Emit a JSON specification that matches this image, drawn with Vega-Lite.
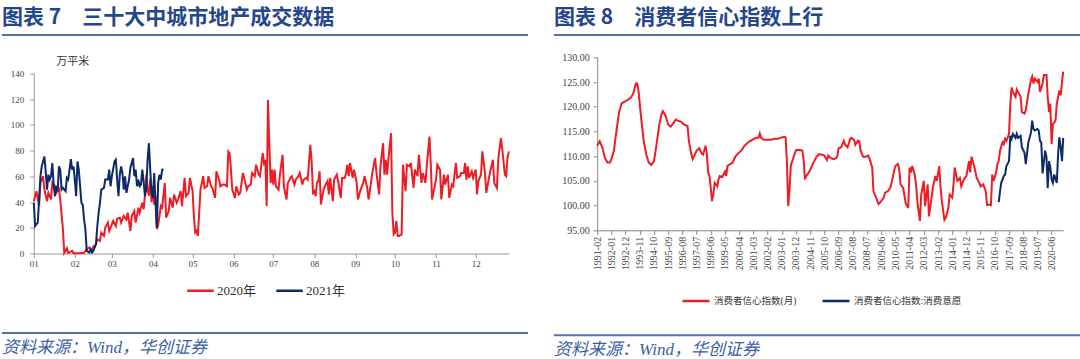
{
  "$schema": "https://vega.github.io/schema/vega-lite/v6.json",
  "background": "white",
  "padding": {"left": 2, "top": 7, "right": 0, "bottom": 0},
  "config": {
    "view": {"stroke": null},
    "axis": {"labelFont": "Liberation Serif", "grid": false, "labelColor": "#444", "domainColor": "#999", "tickColor": "#999", "tickSize": 4, "labelFlush": false, "labelOverlap": false, "labelBound": false}
  },
  "resolve": {"scale": {"color": "independent"}, "legend": {"color": "independent"}},
  "datasets": {
    "y2020": [
      {"date":"01-01","area":40.7},{"date":"01-03","area":48.5},{"date":"01-05","area":36.9},{"date":"01-06","area":54.9},{"date":"01-08","area":60.1},{"date":"01-09","area":49.7},{"date":"01-11","area":40.7},{"date":"01-12","area":47.2},{"date":"01-14","area":42.0},{"date":"01-15","area":54.9},{"date":"01-17","area":52.3},{"date":"01-18","area":47.2},{"date":"01-20","area":50.0},{"date":"01-21","area":42.0},{"date":"01-23","area":19.0},{"date":"01-24","area":0.5},{"date":"01-26","area":4.0},{"date":"01-27","area":0.3},{"date":"01-30","area":2.0},{"date":"01-31","area":0.2},
      {"date":"02-05","area":0.2},{"date":"02-08","area":0.5},{"date":"02-10","area":3.4},{"date":"02-12","area":4.6},{"date":"02-14","area":2.0},{"date":"02-15","area":5.4},{"date":"02-17","area":7.2},{"date":"02-18","area":11.0},{"date":"02-20","area":9.8},{"date":"02-21","area":16.2},{"date":"02-23","area":13.7},{"date":"02-24","area":20.1},{"date":"02-26","area":24.0},{"date":"02-27","area":17.5},
      {"date":"03-01","area":22.7},{"date":"03-02","area":25.3},{"date":"03-04","area":21.4},{"date":"03-05","area":27.1},{"date":"03-07","area":27.8},{"date":"03-08","area":24.0},{"date":"03-10","area":29.1},{"date":"03-12","area":26.5},{"date":"03-13","area":31.7},{"date":"03-15","area":17.5},{"date":"03-16","area":29.1},{"date":"03-18","area":33.0},{"date":"03-19","area":24.0},{"date":"03-21","area":35.6},{"date":"03-22","area":31.7},{"date":"03-24","area":39.4},{"date":"03-25","area":34.3},{"date":"03-26","area":45.0},{"date":"03-27","area":61.0},{"date":"03-28","area":50.0},{"date":"03-29","area":45.0},{"date":"03-30","area":58.0},{"date":"03-31","area":40.0},
      {"date":"04-01","area":52.0},{"date":"04-02","area":38.0},{"date":"04-03","area":45.0},{"date":"04-04","area":19.0},{"date":"04-05","area":22.0},{"date":"04-07","area":36.9},{"date":"04-08","area":35.6},{"date":"04-10","area":54.9},{"date":"04-11","area":27.8},{"date":"04-13","area":33.0},{"date":"04-14","area":43.3},{"date":"04-16","area":35.6},{"date":"04-17","area":45.9},{"date":"04-19","area":39.4},{"date":"04-20","area":42.0},{"date":"04-22","area":48.5},{"date":"04-23","area":36.9},{"date":"04-25","area":58.8},{"date":"04-26","area":44.6},{"date":"04-28","area":47.2},{"date":"04-29","area":58.8},
      {"date":"05-01","area":48.5},{"date":"05-02","area":29.1},{"date":"05-03","area":16.2},{"date":"05-04","area":17.5},{"date":"05-05","area":13.7},{"date":"05-07","area":49.7},{"date":"05-09","area":60.1},{"date":"05-10","area":51.0},{"date":"05-12","area":52.3},{"date":"05-13","area":60.1},{"date":"05-15","area":52.3},{"date":"05-16","area":51.0},{"date":"05-18","area":43.3},{"date":"05-19","area":63.9},{"date":"05-21","area":57.5},{"date":"05-22","area":52.3},{"date":"05-24","area":53.6},{"date":"05-25","area":53.6},{"date":"05-27","area":52.3},{"date":"05-28","area":79.4},{"date":"05-29","area":78.1},{"date":"05-30","area":65.2},{"date":"05-31","area":49.7},
      {"date":"06-02","area":43.3},{"date":"06-03","area":52.3},{"date":"06-05","area":45.9},{"date":"06-06","area":47.2},{"date":"06-08","area":62.6},{"date":"06-09","area":58.8},{"date":"06-11","area":49.7},{"date":"06-12","area":52.3},{"date":"06-14","area":53.6},{"date":"06-15","area":62.6},{"date":"06-17","area":60.1},{"date":"06-18","area":69.1},{"date":"06-20","area":61.3},{"date":"06-21","area":60.1},{"date":"06-23","area":78.1},{"date":"06-24","area":70.4},{"date":"06-25","area":72.9},{"date":"06-26","area":36.9},{"date":"06-27","area":119.3},{"date":"06-28","area":85.8},{"date":"06-29","area":54.9},{"date":"06-30","area":65.2},
      {"date":"07-01","area":53.6},{"date":"07-02","area":65.2},{"date":"07-03","area":52.3},{"date":"07-05","area":49.7},{"date":"07-06","area":61.3},{"date":"07-08","area":76.8},{"date":"07-09","area":52.3},{"date":"07-11","area":42.0},{"date":"07-12","area":54.9},{"date":"07-14","area":58.8},{"date":"07-15","area":60.1},{"date":"07-17","area":53.6},{"date":"07-18","area":57.5},{"date":"07-20","area":60.1},{"date":"07-21","area":62.6},{"date":"07-23","area":53.6},{"date":"07-24","area":57.5},{"date":"07-26","area":58.8},{"date":"07-27","area":57.5},{"date":"07-29","area":84.5},{"date":"07-30","area":71.6},{"date":"07-31","area":47.2},
      {"date":"08-01","area":48.5},{"date":"08-02","area":44.6},{"date":"08-03","area":54.9},{"date":"08-04","area":56.2},{"date":"08-05","area":63.9},{"date":"08-06","area":38.1},{"date":"08-08","area":49.7},{"date":"08-09","area":52.3},{"date":"08-11","area":56.2},{"date":"08-12","area":45.9},{"date":"08-13","area":58.8},{"date":"08-15","area":40.7},{"date":"08-16","area":57.5},{"date":"08-18","area":61.3},{"date":"08-19","area":56.2},{"date":"08-21","area":43.3},{"date":"08-22","area":58.8},{"date":"08-24","area":58.8},{"date":"08-25","area":62.6},{"date":"08-26","area":69.1},{"date":"08-27","area":60.1},{"date":"08-28","area":70.4},{"date":"08-30","area":58.8},{"date":"08-31","area":65.2},
      {"date":"09-02","area":54.9},{"date":"09-03","area":42.0},{"date":"09-05","area":49.7},{"date":"09-07","area":54.9},{"date":"09-08","area":60.1},{"date":"09-10","area":51.0},{"date":"09-11","area":42.0},{"date":"09-13","area":56.2},{"date":"09-14","area":63.9},{"date":"09-16","area":74.2},{"date":"09-17","area":62.6},{"date":"09-19","area":45.9},{"date":"09-20","area":67.8},{"date":"09-22","area":85.8},{"date":"09-23","area":61.3},{"date":"09-24","area":72.9},{"date":"09-25","area":61.3},{"date":"09-26","area":72.9},{"date":"09-28","area":93.6},{"date":"09-29","area":31.7},{"date":"09-30","area":14.9},
      {"date":"10-01","area":16.2},{"date":"10-02","area":25.3},{"date":"10-03","area":13.7},{"date":"10-04","area":13.7},{"date":"10-06","area":14.9},{"date":"10-07","area":69.1},{"date":"10-09","area":48.5},{"date":"10-10","area":69.1},{"date":"10-12","area":67.8},{"date":"10-13","area":70.4},{"date":"10-15","area":51.0},{"date":"10-16","area":65.2},{"date":"10-18","area":60.1},{"date":"10-19","area":76.8},{"date":"10-21","area":54.9},{"date":"10-22","area":62.6},{"date":"10-24","area":54.9},{"date":"10-25","area":67.8},{"date":"10-27","area":91.0},{"date":"10-28","area":70.4},{"date":"10-29","area":42.0},{"date":"10-30","area":47.2},
      {"date":"11-01","area":57.5},{"date":"11-02","area":69.1},{"date":"11-04","area":65.2},{"date":"11-05","area":42.0},{"date":"11-07","area":61.3},{"date":"11-08","area":53.6},{"date":"11-10","area":61.3},{"date":"11-11","area":43.3},{"date":"11-13","area":53.6},{"date":"11-14","area":52.3},{"date":"11-16","area":70.4},{"date":"11-17","area":58.8},{"date":"11-19","area":60.1},{"date":"11-20","area":62.6},{"date":"11-22","area":62.6},{"date":"11-23","area":70.4},{"date":"11-24","area":57.5},{"date":"11-25","area":67.8},{"date":"11-26","area":58.8},{"date":"11-28","area":63.9},{"date":"11-29","area":58.8},
      {"date":"12-01","area":65.2},{"date":"12-02","area":45.9},{"date":"12-03","area":56.2},{"date":"12-05","area":61.3},{"date":"12-06","area":79.4},{"date":"12-08","area":62.6},{"date":"12-09","area":47.2},{"date":"12-11","area":58.8},{"date":"12-12","area":63.9},{"date":"12-14","area":72.9},{"date":"12-15","area":54.9},{"date":"12-17","area":51.0},{"date":"12-18","area":72.9},{"date":"12-20","area":89.7},{"date":"12-21","area":82.0},{"date":"12-23","area":61.3},{"date":"12-24","area":60.1},{"date":"12-25","area":74.2},{"date":"12-26","area":79.4}
    ],
    "y2021": [
      {"date":"01-01","area":39.4},{"date":"01-02","area":21.4},{"date":"01-04","area":24.0},{"date":"01-05","area":42.0},{"date":"01-06","area":60.1},{"date":"01-07","area":67.8},{"date":"01-09","area":75.5},{"date":"01-10","area":63.9},{"date":"01-11","area":49.7},{"date":"01-12","area":61.3},{"date":"01-13","area":57.5},{"date":"01-14","area":60.1},{"date":"01-15","area":70.4},{"date":"01-16","area":53.6},{"date":"01-17","area":44.6},{"date":"01-18","area":51.0},{"date":"01-19","area":48.5},{"date":"01-20","area":67.8},{"date":"01-21","area":65.2},{"date":"01-22","area":49.7},{"date":"01-23","area":51.0},{"date":"01-25","area":48.5},{"date":"01-26","area":58.8},{"date":"01-27","area":57.5},{"date":"01-28","area":65.2},{"date":"01-29","area":73.5},{"date":"01-30","area":65.2},{"date":"01-31","area":67.8},
      {"date":"02-01","area":57.5},{"date":"02-02","area":44.6},{"date":"02-03","area":71.6},{"date":"02-04","area":65.2},{"date":"02-05","area":52.3},{"date":"02-06","area":39.4},{"date":"02-07","area":38.1},{"date":"02-08","area":26.5},{"date":"02-09","area":18.8},{"date":"02-10","area":2.0},{"date":"02-12","area":0.8},{"date":"02-13","area":3.4},{"date":"02-14","area":0.8},{"date":"02-15","area":2.0},{"date":"02-17","area":7.2},{"date":"02-18","area":21.4},{"date":"02-19","area":31.7},{"date":"02-20","area":39.4},{"date":"02-21","area":49.7},{"date":"02-23","area":51.0},{"date":"02-24","area":57.5},{"date":"02-26","area":57.5},{"date":"02-27","area":65.2},{"date":"02-28","area":52.3},
      {"date":"03-01","area":60.1},{"date":"03-03","area":71.6},{"date":"03-04","area":72.9},{"date":"03-05","area":57.5},{"date":"03-06","area":44.6},{"date":"03-07","area":61.3},{"date":"03-08","area":67.8},{"date":"03-09","area":62.6},{"date":"03-10","area":49.7},{"date":"03-11","area":60.1},{"date":"03-12","area":47.2},{"date":"03-14","area":57.5},{"date":"03-15","area":66.5},{"date":"03-17","area":74.2},{"date":"03-18","area":60.1},{"date":"03-19","area":65.2},{"date":"03-20","area":52.3},{"date":"03-21","area":57.5},{"date":"03-22","area":52.3},{"date":"03-23","area":53.6},{"date":"03-24","area":65.2},{"date":"03-25","area":56.2},{"date":"03-26","area":44.6},{"date":"03-27","area":49.7},{"date":"03-28","area":72.9},{"date":"03-29","area":85.8},{"date":"03-30","area":65.2},{"date":"03-31","area":47.2},
      {"date":"04-01","area":43.3},{"date":"04-02","area":62.6},{"date":"04-03","area":39.4},{"date":"04-04","area":20.1},{"date":"04-05","area":54.9},{"date":"04-06","area":61.3},{"date":"04-07","area":57.5},{"date":"04-08","area":65.2},{"date":"04-09","area":65.7}
    ],
    "cci": [
      {"month":"1991-02","index":112.1},{"month":"1991-04","index":113.0},{"month":"1991-06","index":111.8},{"month":"1991-08","index":109.7},{"month":"1991-10","index":108.7},{"month":"1991-12","index":108.7},{"month":"1992-01","index":109.4},{"month":"1992-03","index":111.1},{"month":"1992-05","index":115.2},{"month":"1992-07","index":118.9},{"month":"1992-09","index":120.7},{"month":"1993-01","index":121.3},{"month":"1993-04","index":121.8},{"month":"1993-06","index":122.7},{"month":"1993-08","index":124.7},{"month":"1993-09","index":124.7},{"month":"1993-10","index":123.3},{"month":"1993-12","index":117.9},
      {"month":"1994-02","index":113.1},{"month":"1994-04","index":110.4},{"month":"1994-06","index":108.7},{"month":"1994-08","index":108.2},{"month":"1994-10","index":109.0},{"month":"1994-12","index":112.4},{"month":"1995-02","index":116.2},{"month":"1995-04","index":118.6},{"month":"1995-05","index":119.1},{"month":"1995-07","index":118.2},{"month":"1995-09","index":116.4},{"month":"1995-11","index":116.0},{"month":"1996-01","index":116.7},{"month":"1996-03","index":117.4},{"month":"1996-05","index":117.1},{"month":"1996-07","index":117.0},{"month":"1996-09","index":116.4},{"month":"1996-11","index":116.2},{"month":"1996-12","index":116.1},
      {"month":"1997-01","index":113.1},{"month":"1997-03","index":110.4},{"month":"1997-04","index":109.4},{"month":"1997-05","index":109.9},{"month":"1997-07","index":111.1},{"month":"1997-09","index":111.6},{"month":"1997-11","index":110.5},{"month":"1997-12","index":110.3},{"month":"1998-02","index":112.1},{"month":"1998-03","index":110.4},{"month":"1998-04","index":106.7},{"month":"1998-05","index":106.0},{"month":"1998-06","index":103.6},{"month":"1998-07","index":100.9},{"month":"1998-08","index":102.2},{"month":"1998-09","index":104.6},{"month":"1998-11","index":103.9},{"month":"1998-12","index":105.3},
      {"month":"1999-01","index":106.0},{"month":"1999-03","index":105.8},{"month":"1999-05","index":106.9},{"month":"1999-06","index":106.0},{"month":"1999-07","index":108.0},{"month":"1999-09","index":108.4},{"month":"1999-11","index":108.7},{"month":"2000-01","index":109.9},{"month":"2000-03","index":110.5},{"month":"2000-06","index":111.2},{"month":"2000-08","index":112.1},{"month":"2000-12","index":113.0},{"month":"2001-02","index":113.3},{"month":"2001-05","index":113.7},{"month":"2001-07","index":113.7},{"month":"2001-08","index":114.6},{"month":"2001-09","index":113.7},{"month":"2001-11","index":113.3},
      {"month":"2002-02","index":113.3},{"month":"2002-05","index":113.3},{"month":"2002-07","index":113.5},{"month":"2002-10","index":113.5},{"month":"2002-12","index":113.7},{"month":"2003-03","index":113.9},{"month":"2003-04","index":113.8},{"month":"2003-05","index":109.0},{"month":"2003-06","index":99.9},{"month":"2003-07","index":103.0},{"month":"2003-08","index":108.0},{"month":"2003-10","index":109.7},{"month":"2003-12","index":111.2},
      {"month":"2004-03","index":111.3},{"month":"2004-05","index":111.1},{"month":"2004-06","index":109.0},{"month":"2004-07","index":105.3},{"month":"2004-08","index":106.0},{"month":"2004-10","index":106.7},{"month":"2005-01","index":108.4},{"month":"2005-04","index":109.9},{"month":"2005-06","index":110.4},{"month":"2005-08","index":110.3},{"month":"2005-10","index":110.1},{"month":"2005-12","index":109.2},
      {"month":"2006-01","index":110.1},{"month":"2006-03","index":109.6},{"month":"2006-05","index":109.4},{"month":"2006-07","index":109.6},{"month":"2006-08","index":109.9},{"month":"2006-09","index":111.6},{"month":"2006-11","index":111.8},{"month":"2007-01","index":113.1},{"month":"2007-02","index":112.3},{"month":"2007-04","index":111.8},{"month":"2007-06","index":113.5},{"month":"2007-07","index":113.7},{"month":"2007-09","index":113.3},{"month":"2007-10","index":112.3},{"month":"2007-12","index":113.1},
      {"month":"2008-01","index":113.0},{"month":"2008-02","index":111.1},{"month":"2008-04","index":109.9},{"month":"2008-06","index":109.9},{"month":"2008-08","index":110.1},{"month":"2008-09","index":109.4},{"month":"2008-11","index":107.7},{"month":"2008-12","index":102.9},{"month":"2009-02","index":101.6},{"month":"2009-04","index":100.3},{"month":"2009-06","index":100.9},{"month":"2009-08","index":101.6},{"month":"2009-09","index":102.6},{"month":"2009-11","index":102.9},
      {"month":"2010-01","index":103.6},{"month":"2010-02","index":104.6},{"month":"2010-04","index":107.0},{"month":"2010-05","index":108.0},{"month":"2010-07","index":108.4},{"month":"2010-08","index":107.3},{"month":"2010-09","index":104.3},{"month":"2010-11","index":103.6},{"month":"2011-01","index":100.5},{"month":"2011-03","index":99.5},{"month":"2011-04","index":107.7},{"month":"2011-05","index":106.7},{"month":"2011-06","index":108.0},{"month":"2011-08","index":106.3},{"month":"2011-09","index":104.3},{"month":"2011-10","index":100.9},{"month":"2011-12","index":96.9},
      {"month":"2012-01","index":102.2},{"month":"2012-03","index":105.0},{"month":"2012-04","index":99.9},{"month":"2012-06","index":104.3},{"month":"2012-07","index":97.8},{"month":"2012-09","index":101.6},{"month":"2012-10","index":103.6},{"month":"2012-12","index":106.0},{"month":"2013-01","index":105.0},{"month":"2013-03","index":108.0},{"month":"2013-04","index":103.6},{"month":"2013-05","index":100.9},{"month":"2013-07","index":97.1},{"month":"2013-08","index":97.5},{"month":"2013-10","index":99.5},{"month":"2013-11","index":102.2},
      {"month":"2014-01","index":101.6},{"month":"2014-02","index":104.3},{"month":"2014-03","index":107.7},{"month":"2014-05","index":105.0},{"month":"2014-07","index":105.6},{"month":"2014-08","index":103.9},{"month":"2014-10","index":105.3},{"month":"2014-12","index":106.0},{"month":"2015-02","index":109.0},{"month":"2015-03","index":106.7},{"month":"2015-04","index":109.9},{"month":"2015-06","index":108.0},{"month":"2015-08","index":105.6},{"month":"2015-10","index":104.6},{"month":"2015-11","index":103.9},
      {"month":"2016-01","index":104.3},{"month":"2016-03","index":102.9},{"month":"2016-04","index":100.1},{"month":"2016-05","index":100.2},{"month":"2016-07","index":100.1},{"month":"2016-08","index":106.3},{"month":"2016-09","index":105.0},{"month":"2016-11","index":106.7},{"month":"2016-12","index":108.4},{"month":"2017-01","index":109.0},{"month":"2017-02","index":111.1},{"month":"2017-04","index":112.8},{"month":"2017-05","index":112.4},{"month":"2017-06","index":113.5},{"month":"2017-07","index":113.1},{"month":"2017-09","index":114.5},{"month":"2017-10","index":120.6},{"month":"2017-11","index":123.9},{"month":"2017-12","index":123.0},
      {"month":"2018-02","index":122.0},{"month":"2018-03","index":123.5},{"month":"2018-04","index":123.0},{"month":"2018-06","index":122.0},{"month":"2018-07","index":118.9},{"month":"2018-09","index":118.6},{"month":"2018-10","index":119.3},{"month":"2018-12","index":122.7},{"month":"2019-02","index":125.4},{"month":"2019-03","index":126.1},{"month":"2019-04","index":124.7},{"month":"2019-05","index":125.7},{"month":"2019-07","index":125.0},{"month":"2019-08","index":125.7},{"month":"2019-09","index":123.0},{"month":"2019-11","index":124.7},{"month":"2019-12","index":126.4},
      {"month":"2020-02","index":126.4},{"month":"2020-03","index":122.0},{"month":"2020-04","index":118.9},{"month":"2020-05","index":120.6},{"month":"2020-06","index":112.4},{"month":"2020-07","index":116.5},{"month":"2020-09","index":117.2},{"month":"2020-10","index":120.6},{"month":"2020-12","index":123.3},{"month":"2021-01","index":122.3},{"month":"2021-02","index":125.0},{"month":"2021-03","index":127.1}
    ],
    "willingness": [
      {"month":"2017-01","index":100.7},{"month":"2017-02","index":102.9},{"month":"2017-03","index":104.6},{"month":"2017-05","index":106.0},{"month":"2017-06","index":106.3},{"month":"2017-07","index":108.0},{"month":"2017-09","index":109.0},{"month":"2017-10","index":114.1},{"month":"2017-11","index":113.5},{"month":"2017-12","index":114.5},
      {"month":"2018-02","index":113.7},{"month":"2018-03","index":114.5},{"month":"2018-04","index":113.7},{"month":"2018-06","index":114.1},{"month":"2018-07","index":111.8},{"month":"2018-09","index":110.7},{"month":"2018-10","index":108.4},{"month":"2018-12","index":112.8},
      {"month":"2019-02","index":114.8},{"month":"2019-03","index":117.2},{"month":"2019-04","index":115.5},{"month":"2019-05","index":115.2},{"month":"2019-07","index":115.5},{"month":"2019-08","index":115.2},{"month":"2019-09","index":113.1},{"month":"2019-10","index":112.8},{"month":"2019-11","index":106.5},
      {"month":"2020-01","index":111.1},{"month":"2020-02","index":109.7},{"month":"2020-03","index":103.5},{"month":"2020-04","index":109.0},{"month":"2020-05","index":107.7},{"month":"2020-06","index":105.3},{"month":"2020-07","index":104.6},{"month":"2020-08","index":106.3},{"month":"2020-10","index":104.6},{"month":"2020-11","index":110.4},{"month":"2020-12","index":113.8},
      {"month":"2021-01","index":111.8},{"month":"2021-02","index":109.0},{"month":"2021-03","index":113.7}
    ]
  },
  "spacing": 26,
  "hconcat": [
    {
      "spacing": 19.5,
      "vconcat": [
        {
          "width": 526, "height": 2,
          "data": {"values": []},
          "mark": "point",
          "view": {"fill": "#4e72b3", "stroke": null},
          "title": {"text": "图表 7　三十大中城市地产成交数据", "anchor": "start", "frame": "group", "offset": 6, "font": "Noto Sans CJK SC", "fontSize": 21, "fontWeight": "bold", "color": "#23468c"}
        },
        {
          "spacing": 63.5,
          "vconcat": [
            {
              "spacing": 6.8,
              "hconcat": [
                {"width": 1, "height": 1, "data": {"values": []}, "mark": "point"},
                {
                  "width": 475, "height": 180,
                  "layer": [
                    {
                      "data": {"name": "y2020", "format": {"parse": {"date": "utc:'%m-%d'"}}},
                      "mark": {"type": "line", "strokeWidth": 2},
                      "encoding": {
                        "x": {"field": "date", "type": "temporal",
                          "scale": {"type": "utc", "domain": [{"year": 1900, "month": 1, "date": 1, "utc": true}, {"year": 1900, "month": 12, "date": 26, "utc": true}]},
                          "axis": {"title": null, "format": "%m", "labelFontSize": 9, "labelPadding": 2, "labelOverlap": false, "tickCount": 30,
                            "values": [{"year":1900,"month":1,"date":1,"utc":true},{"year":1900,"month":2,"date":1,"utc":true},{"year":1900,"month":3,"date":1,"utc":true},{"year":1900,"month":4,"date":1,"utc":true},{"year":1900,"month":5,"date":1,"utc":true},{"year":1900,"month":6,"date":1,"utc":true},{"year":1900,"month":7,"date":1,"utc":true},{"year":1900,"month":8,"date":1,"utc":true},{"year":1900,"month":9,"date":1,"utc":true},{"year":1900,"month":10,"date":1,"utc":true},{"year":1900,"month":11,"date":1,"utc":true},{"year":1900,"month":12,"date":1,"utc":true}]}},
                        "y": {"field": "area", "type": "quantitative",
                          "scale": {"domain": [0, 140], "nice": false},
                          "axis": {"title": "万平米", "titleAngle": 0, "titleAlign": "left", "titleBaseline": "bottom", "titleX": 22, "titleY": -7, "titleFont": "Noto Sans CJK SC", "titleFontSize": 11, "titleFontWeight": "normal", "titleColor": "#333", "values": [0, 20, 40, 60, 80, 100, 120, 140], "tickCount": 20, "labelFontSize": 9, "labelPadding": 6, "labelOverlap": false}},
                        "color": {"datum": "2020年", "type": "nominal",
                          "scale": {"domain": ["2020年", "2021年"], "range": ["#ee1c25", "#0c2a6a"]},
                          "legend": {"title": null, "orient": "none", "legendX": 184, "legendY": 242, "direction": "horizontal", "symbolType": "stroke", "symbolSize": 700, "symbolStrokeWidth": 2.5, "labelFont": "Liberation Serif, Noto Sans CJK SC", "labelFontSize": 13, "labelColor": "#333", "columnPadding": 14, "labelOffset": 2}}
                      }
                    },
                    {
                      "data": {"name": "y2021", "format": {"parse": {"date": "utc:'%m-%d'"}}},
                      "mark": {"type": "line", "strokeWidth": 2},
                      "encoding": {
                        "x": {"field": "date", "type": "temporal"},
                        "y": {"field": "area", "type": "quantitative"},
                        "color": {"datum": "2021年", "type": "nominal"}
                      }
                    }
                  ]
                }
              ]
            },
            {
              "width": 526, "height": 2,
              "data": {"values": []},
              "mark": "point",
              "view": {"fill": "#4e72b3", "stroke": null},
              "title": {"text": "资料来源：Wind，华创证券", "orient": "bottom", "anchor": "start", "frame": "group", "offset": 6, "font": "Liberation Serif, Noto Sans CJK SC", "fontSize": 17, "fontStyle": "italic", "fontWeight": "normal", "color": "#3a5ea8"}
            }
          ]
        }
      ]
    },
    {
      "spacing": 16.3,
      "vconcat": [
        {
          "width": 526, "height": 2,
          "data": {"values": []},
          "mark": "point",
          "view": {"fill": "#4e72b3", "stroke": null},
          "title": {"text": "图表 8　消费者信心指数上行", "anchor": "start", "frame": "group", "offset": 6, "font": "Noto Sans CJK SC", "fontSize": 21, "fontWeight": "bold", "color": "#23468c"}
        },
        {
          "spacing": 64,
          "vconcat": [
            {
              "spacing": 6.2,
              "hconcat": [
                {"width": 1, "height": 1, "data": {"values": []}, "mark": "point"},
                {
                  "width": 466, "height": 173,
                  "layer": [
                    {
                      "data": {"name": "cci", "format": {"parse": {"month": "utc:'%Y-%m'"}}},
                      "mark": {"type": "line", "strokeWidth": 2},
                      "encoding": {
                        "x": {"field": "month", "type": "temporal",
                          "scale": {"type": "utc", "domain": [{"year": 1991, "month": 2, "utc": true}, {"year": 2021, "month": 3, "utc": true}]},
                          "axis": {"title": null, "format": "%Y-%m", "labelAngle": -90, "labelFontSize": 10, "labelPadding": 2, "labelOverlap": false, "tickCount": 60, "domainColor": "#888", "tickColor": "#888",
                            "values": [{"year":1991,"month":2,"utc":true},{"year":1992,"month":1,"utc":true},{"year":1992,"month":12,"utc":true},{"year":1993,"month":11,"utc":true},{"year":1994,"month":10,"utc":true},{"year":1995,"month":9,"utc":true},{"year":1996,"month":8,"utc":true},{"year":1997,"month":7,"utc":true},{"year":1998,"month":6,"utc":true},{"year":1999,"month":5,"utc":true},{"year":2000,"month":4,"utc":true},{"year":2001,"month":3,"utc":true},{"year":2002,"month":2,"utc":true},{"year":2003,"month":1,"utc":true},{"year":2003,"month":12,"utc":true},{"year":2004,"month":11,"utc":true},{"year":2005,"month":10,"utc":true},{"year":2006,"month":9,"utc":true},{"year":2007,"month":8,"utc":true},{"year":2008,"month":7,"utc":true},{"year":2009,"month":6,"utc":true},{"year":2010,"month":5,"utc":true},{"year":2011,"month":4,"utc":true},{"year":2012,"month":3,"utc":true},{"year":2013,"month":2,"utc":true},{"year":2014,"month":1,"utc":true},{"year":2014,"month":12,"utc":true},{"year":2015,"month":11,"utc":true},{"year":2016,"month":10,"utc":true},{"year":2017,"month":9,"utc":true},{"year":2018,"month":8,"utc":true},{"year":2019,"month":7,"utc":true},{"year":2020,"month":6,"utc":true}]}},
                        "y": {"field": "index", "type": "quantitative",
                          "scale": {"domain": [95, 130], "nice": false, "zero": false},
                          "axis": {"title": null, "format": ".2f", "values": [95, 100, 105, 110, 115, 120, 125, 130], "tickCount": 20, "labelFontSize": 10, "labelPadding": 4, "labelOverlap": false, "domainColor": "#888", "tickColor": "#888"}},
                        "color": {"datum": "消费者信心指数(月)", "type": "nominal",
                          "scale": {"domain": ["消费者信心指数(月)", "消费者信心指数:消费意愿"], "range": ["#ee1c25", "#0c2a6a"]},
                          "legend": {"title": null, "orient": "none", "legendX": 127, "legendY": 252, "direction": "horizontal", "symbolType": "stroke", "symbolSize": 730, "symbolStrokeWidth": 2.5, "labelFont": "Liberation Serif, Noto Sans CJK SC", "labelFontSize": 9.5, "labelColor": "#333", "columnPadding": 20, "labelOffset": 3}}
                      }
                    },
                    {
                      "data": {"name": "willingness", "format": {"parse": {"month": "utc:'%Y-%m'"}}},
                      "mark": {"type": "line", "strokeWidth": 2},
                      "encoding": {
                        "x": {"field": "month", "type": "temporal"},
                        "y": {"field": "index", "type": "quantitative"},
                        "color": {"datum": "消费者信心指数:消费意愿", "type": "nominal"}
                      }
                    }
                  ]
                }
              ]
            },
            {
              "width": 526, "height": 2,
              "data": {"values": []},
              "mark": "point",
              "view": {"fill": "#4e72b3", "stroke": null},
              "title": {"text": "资料来源：Wind，华创证券", "orient": "bottom", "anchor": "start", "frame": "group", "offset": 6, "font": "Liberation Serif, Noto Sans CJK SC", "fontSize": 17, "fontStyle": "italic", "fontWeight": "normal", "color": "#3a5ea8"}
            }
          ]
        }
      ]
    }
  ]
}
